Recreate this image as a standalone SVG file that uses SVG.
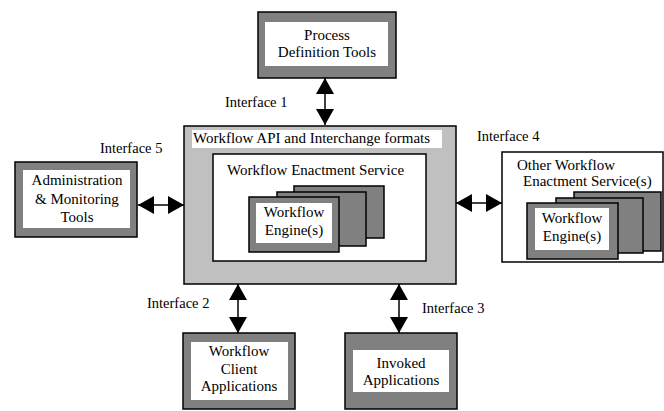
<svg xmlns="http://www.w3.org/2000/svg" width="664" height="411" viewBox="0 0 664 411">
<defs>
<style>
.t{font-family:"Liberation Serif","Times New Roman",Tinos,"DejaVu Serif",serif;font-size:15px;fill:#000}
.i{font-family:"Liberation Serif","Times New Roman",Tinos,"DejaVu Serif",serif;font-size:14.5px;fill:#000}
.m{text-anchor:middle}
.outer{fill:#808080;stroke:#000;stroke-width:1.5}
.inner{fill:#fff;stroke:none}
.eng{fill:#808080;stroke:#000;stroke-width:1.5}
.conn{stroke:#000;stroke-width:1.5;fill:none;marker-start:url(#ah);marker-end:url(#ah)}
</style>
<marker id="ah" viewBox="0 0 16 18" refX="16" refY="9" markerWidth="16" markerHeight="18" markerUnits="userSpaceOnUse" orient="auto-start-reverse">
<path d="M0,0 L16,9 L0,18 Z" fill="#000"/>
</marker>
</defs>
<rect width="664" height="411" fill="#fff"/>

<g id="connectors">
<line class="conn" x1="325" y1="78" x2="325" y2="125"/>
<line class="conn" x1="138" y1="205" x2="184" y2="205"/>
<line class="conn" x1="456" y1="203" x2="502" y2="203"/>
<line class="conn" x1="238" y1="284" x2="238" y2="333"/>
<line class="conn" x1="399" y1="284" x2="399" y2="333"/>
</g>

<g id="process-definition-tools">
<rect class="outer" x="258" y="12" width="138" height="66"/>
<rect class="inner" x="265" y="22" width="123" height="44"/>
<text class="t m" x="327" y="40">Process</text>
<text class="t m" x="327" y="57">Definition Tools</text>
</g>

<g id="workflow-api">
<rect x="184" y="126" width="272" height="158" fill="#c0c0c0" stroke="#000" stroke-width="1.5"/>
<rect class="inner" x="192" y="130" width="250" height="18"/>
<text class="t" x="193" y="143">Workflow API and Interchange formats</text>
</g>

<g id="workflow-enactment-service">
<rect x="213" y="154" width="213" height="107" fill="#fff" stroke="#000" stroke-width="1.5"/>
<text class="t" x="227" y="175">Workflow Enactment Service</text>
<rect class="eng" x="294" y="186" width="90" height="52"/>
<rect class="eng" x="277" y="192" width="89" height="54"/>
<rect class="eng" x="249" y="197" width="90" height="55"/>
<rect class="inner" x="256" y="203" width="76" height="40"/>
<text class="t m" x="294" y="217">Workflow</text>
<text class="t m" x="294" y="235">Engine(s)</text>
</g>

<g id="administration-tools">
<rect class="outer" x="15" y="162" width="122" height="75"/>
<rect class="inner" x="23" y="170" width="107" height="58"/>
<text class="t m" x="77" y="185">Administration</text>
<text class="t m" x="77" y="204">&amp; Monitoring</text>
<text class="t m" x="77" y="222">Tools</text>
</g>

<g id="other-enactment-services">
<rect x="502" y="152" width="161" height="110" fill="#fff" stroke="#000" stroke-width="1.5"/>
<text class="t" x="517" y="170">Other Workflow</text>
<text class="t" x="523" y="186">Enactment Service(s)</text>
<rect class="eng" x="574" y="192" width="87" height="59"/>
<rect class="eng" x="556" y="198" width="87" height="55"/>
<rect class="eng" x="527" y="203" width="91" height="56"/>
<rect class="inner" x="535" y="208" width="74" height="42"/>
<text class="t m" x="572" y="223">Workflow</text>
<text class="t m" x="572" y="241">Engine(s)</text>
</g>

<g id="client-applications">
<rect class="outer" x="183" y="333" width="112" height="76"/>
<rect class="inner" x="191" y="342" width="97" height="58"/>
<text class="t m" x="239" y="356">Workflow</text>
<text class="t m" x="239" y="374">Client</text>
<text class="t m" x="239" y="391">Applications</text>
</g>

<g id="invoked-applications">
<rect class="outer" x="345" y="333" width="112" height="76"/>
<rect class="inner" x="353" y="350" width="96" height="42"/>
<text class="t m" x="401" y="368">Invoked</text>
<text class="t m" x="401" y="385">Applications</text>
</g>

<g id="labels">
<text class="i" x="225" y="107">Interface 1</text>
<text class="i" x="147" y="308">Interface 2</text>
<text class="i" x="422" y="313">Interface 3</text>
<text class="i" x="477" y="141">Interface 4</text>
<text class="i" x="100" y="153">Interface 5</text>
</g>
</svg>
